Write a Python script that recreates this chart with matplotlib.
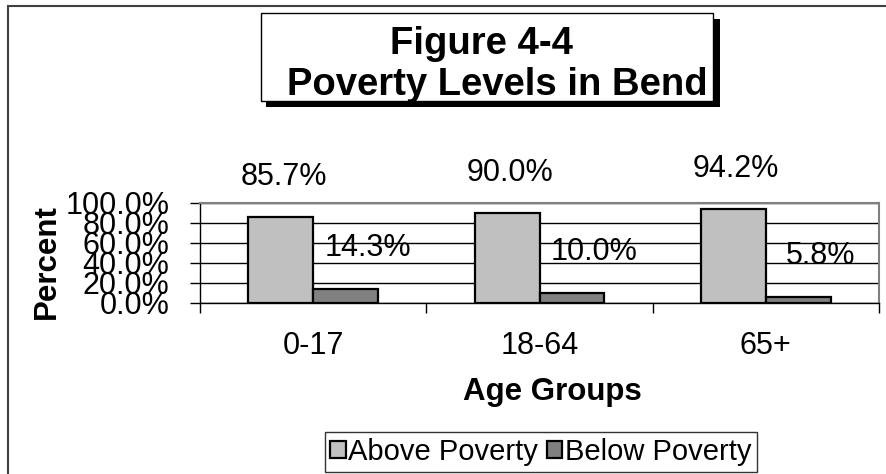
import matplotlib
matplotlib.use("Agg")
import matplotlib.pyplot as plt
from matplotlib.patches import Rectangle

# ── Data ─────────────────────────────────────────────────────────────────────

age_groups = ["0-17", "18-64", "65+"]
above_poverty = [85.7, 90.0, 94.2]
below_poverty = [14.3, 10.0, 5.8]
series_names = ["Above Poverty", "Below Poverty"]
y_ticks = [0, 20, 40, 60, 80, 100]

# ── Figure ───────────────────────────────────────────────────────────────────

W, H = 886, 474
plt.rcParams['font.family'] = ['Liberation Sans', 'DejaVu Sans']

fig = plt.figure(figsize=(W / 100, H / 100), dpi=100)


def px(x, y):
    # pixel coords (top-left origin) -> figure fraction
    return x / W, 1 - y / H


def px_rect(x0, y0, x1, y1, **kw):
    fx, fy = px(x0, y1)
    return Rectangle((fx, fy), (x1 - x0) / W, (y1 - y0) / H,
                     transform=fig.transFigure, **kw)


# outer chart border (right/bottom run off the image)
fig.patches.append(px_rect(8, 6, W + 10, H + 10, fill=False,
                           edgecolor='#404040', linewidth=1.5))

# title box with drop shadow
fig.patches.append(px_rect(266, 19, 720, 107, facecolor='black',
                           edgecolor='black', linewidth=0))
fig.patches.append(px_rect(261, 13, 713, 101, facecolor='white',
                           edgecolor='black', linewidth=1))
fig.text(*px(482, 44), "Figure 4-4", ha='center', va='center',
         fontsize=27.5, fontweight='bold')
fig.text(*px(497, 85), "Poverty Levels in Bend", ha='center', va='center',
         fontsize=27.5, fontweight='bold')

# ── Plot area ────────────────────────────────────────────────────────────────

ax = fig.add_axes([200 / W, 1 - 303 / H, 679 / W, 100 / H])

x = list(range(len(age_groups)))
bw = 0.287
b1 = ax.bar([i - bw / 2 for i in x], above_poverty, width=bw,
            color='#C0C0C0', edgecolor='black', linewidth=1.6,
            label=series_names[0], zorder=3)
b2 = ax.bar([i + bw / 2 for i in x], below_poverty, width=bw,
            color='#808080', edgecolor='black', linewidth=1.6,
            label=series_names[1], zorder=3)

# data labels, Excel-style floating above each bar
for i, v in enumerate(above_poverty):
    ax.annotate(f"{v:.1f}%", xy=(i - bw / 2, v), xytext=(2, 29),
                textcoords='offset points', ha='center', va='center',
                fontsize=22, annotation_clip=False)
for i, v in enumerate(below_poverty):
    ax.annotate(f"{v:.1f}%", xy=(i + bw / 2, v), xytext=(16, 29.5),
                textcoords='offset points', ha='center', va='center',
                fontsize=22, annotation_clip=False, zorder=4)

ax.set_xlim(-0.5, len(age_groups) - 0.5)
ax.set_ylim(0, 100)

ax.set_yticks(y_ticks)
ax.set_yticklabels([f"{t:.1f}%" for t in y_ticks])
ax.tick_params(axis='y', length=7, width=1, pad=15, labelsize=22)

ax.set_xticks(x)
ax.set_xticklabels(age_groups)
ax.tick_params(axis='x', which='major', length=0, pad=20, labelsize=22)
ax.set_xticks([i - 0.5 for i in range(len(age_groups) + 1)], minor=True)
ax.tick_params(axis='x', which='minor', length=7, width=1, direction='out')

ax.yaxis.grid(True, color='black', linewidth=1)
ax.set_axisbelow(True)

for s in ['left', 'bottom']:
    ax.spines[s].set_color('black')
    ax.spines[s].set_linewidth(1)
for s in ['top', 'right']:
    ax.spines[s].set_color('#808080')
    ax.spines[s].set_linewidth(1.5)

fig.text(*px(47, 262), "Percent", rotation=90, ha='center', va='center',
         fontsize=22.5, fontweight='bold')
fig.text(*px(552, 392), "Age Groups", ha='center', va='center',
         fontsize=22.5, fontweight='bold')

leg = fig.legend(handles=[b1, b2], labels=series_names, loc='center',
                 bbox_to_anchor=px(541, 452), ncol=2, fontsize=21,
                 frameon=True, fancybox=False, shadow=False,
                 handlelength=0.52, handleheight=0.52, handletextpad=0.1,
                 columnspacing=0.3, borderpad=0.2, borderaxespad=0)
leg.get_frame().set_edgecolor('black')
leg.get_frame().set_linewidth(1)

plt.savefig("out.png", dpi=100)
